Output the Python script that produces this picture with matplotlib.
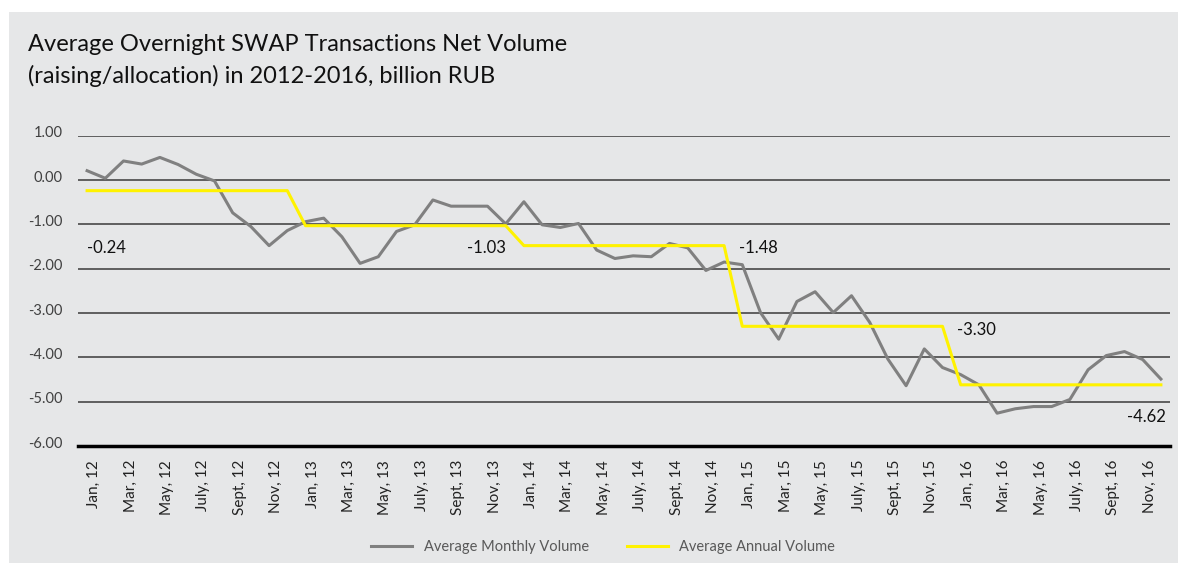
import numpy as np
import matplotlib
matplotlib.use('Agg')
import matplotlib.pyplot as plt
import matplotlib.transforms as mtransforms
from matplotlib.patches import Rectangle

plt.rcParams['font.family'] = ['Lato', 'DejaVu Sans']

# monthly net volume, Jan 2012 .. Dec 2016 (billion RUB)
monthly_2012 = [0.21, 0.04, 0.43, 0.36, 0.51, 0.35, 0.13, -0.02, -0.74, -1.05, -1.48, -1.14]
monthly_2013 = [-0.94, -0.86, -1.28, -1.88, -1.73, -1.16, -1.01, -0.45, -0.59, -0.59, -0.59, -0.99]
monthly_2014 = [-0.49, -1.01, -1.07, -0.98, -1.58, -1.77, -1.71, -1.73, -1.43, -1.53, -2.04, -1.85]
monthly_2015 = [-1.91, -2.99, -3.59, -2.74, -2.52, -2.99, -2.61, -3.21, -4.04, -4.64, -3.81, -4.23]
monthly_2016 = [-4.39, -4.62, -5.26, -5.16, -5.11, -5.11, -4.95, -4.28, -3.96, -3.87, -4.05, -4.49]
monthly = monthly_2012 + monthly_2013 + monthly_2014 + monthly_2015 + monthly_2016

years = ['12', '13', '14', '15', '16']
annual = [-0.24, -1.03, -1.48, -3.30, -4.62]
tick_months = ['Jan', 'Mar', 'May', 'July', 'Sept', 'Nov']
tick_labels = [m + ', ' + y for y in years for m in tick_months]

# where the annual value labels sit (month index, y)
label_pos = [(0, -1.53), (20.9, -1.53), (35.8, -1.53), (47.8, -3.38), (59.3, -5.35)]
label_ha = ['left', 'left', 'left', 'left', 'right']

x = np.arange(len(monthly))
annual_line = np.repeat(annual, 12)

bg = '#E6E7E8'
fig = plt.figure(figsize=(11.78, 5.63), dpi=100)
fig.patch.set_facecolor('white')
fig.patches.append(Rectangle((9 / 1178, 0), 1, 1 - 12 / 563, transform=fig.transFigure,
                             facecolor=bg, edgecolor='none', zorder=-10))

ax = fig.add_axes([78 / 1178, 1 - 446 / 563, (1170 - 78) / 1178, (446 - 135.7) / 563])
ax.set_facecolor(bg)

ax.plot(x, monthly, color='#808080', lw=2.2, label='Average Monthly Volume', zorder=3)
ax.plot(x, annual_line, color='#FFF200', lw=2.2, label='Average Annual Volume', zorder=3)

for v, (px, py), ha in zip(annual, label_pos, label_ha):
    ax.text(px, py, f'{v:.2f}', ha=ha, va='center', fontsize=12, color='#111111')

ax.set_xlim(-0.5, len(monthly) - 0.5)
ax.set_ylim(-6, 1)
ax.set_yticks(np.arange(-6, 1.5, 1))
ax.set_yticklabels([f'{v:.2f}' for v in np.arange(-6, 1.5, 1)])
ax.set_xticks(x[::2])
ax.set_xticklabels(tick_labels, rotation=90)

ax.tick_params(axis='y', length=0, pad=11, labelsize=10.5, labelcolor='#404040')
ax.tick_params(axis='x', length=0, pad=10, labelsize=11, labelcolor='#222222')
ax.yaxis.grid(True, color='#3a3a3a', lw=1.1)
ax.set_axisbelow(True)
for s in ['top', 'right', 'left']:
    ax.spines[s].set_visible(False)
ax.spines['bottom'].set_linewidth(2.5)
ax.spines['bottom'].set_color('black')

# nudge tick labels a bit like the original
up = mtransforms.ScaledTranslation(0, 0.04, fig.dpi_scale_trans)
for lbl in ax.get_yticklabels():
    lbl.set_transform(lbl.get_transform() + up)
right = mtransforms.ScaledTranslation(0.07, 0, fig.dpi_scale_trans)
for lbl in ax.get_xticklabels():
    lbl.set_transform(lbl.get_transform() + right)

fig.text(28 / 1178, 1 - 34 / 563,
         'Average Overnight SWAP Transactions Net Volume\n(raising/allocation) in 2012-2016, billion RUB',
         ha='left', va='top', fontsize=17, linespacing=1.55, color='#111111')

fig.legend(loc='center', bbox_to_anchor=(0.512, 1 - 547 / 563), ncol=2, frameon=False,
           fontsize=10.5, handlelength=2.8, columnspacing=2.6, labelcolor='#595959')

fig.savefig('out.png', dpi=100, facecolor=fig.get_facecolor())
